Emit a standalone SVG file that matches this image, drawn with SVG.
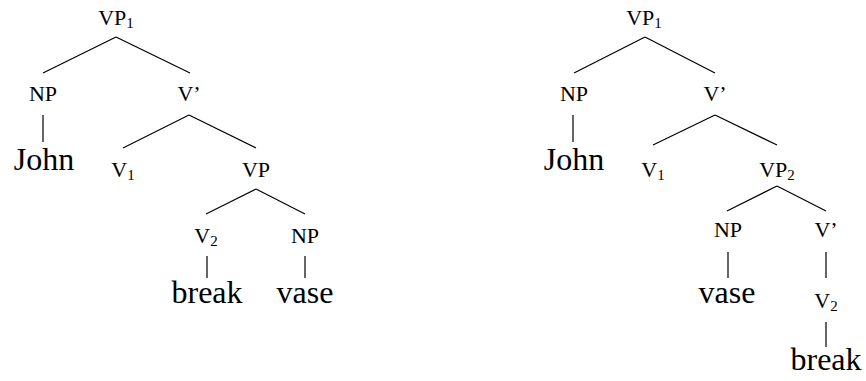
<svg xmlns="http://www.w3.org/2000/svg" width="866" height="381" viewBox="0 0 866 381">
<style>
.lbl{font-size:22px;fill:#000;text-anchor:middle}
.wd{font-size:32px;fill:#000;text-anchor:middle}
.sub{font-size:15px}
.edge{stroke:#000;stroke-width:1.2;fill:none}
</style>
<rect width="866" height="381" fill="#fff"/>
<g id="connectors">
<line class="edge" x1="116" y1="37" x2="43" y2="73"/>
<line class="edge" x1="116" y1="37" x2="190" y2="73"/>
<line class="edge" x1="43" y1="115" x2="43" y2="142"/>
<line class="edge" x1="189" y1="115" x2="123" y2="148"/>
<line class="edge" x1="189" y1="115" x2="256" y2="148"/>
<line class="edge" x1="256" y1="189" x2="206" y2="214"/>
<line class="edge" x1="256" y1="189" x2="305" y2="214"/>
<line class="edge" x1="207" y1="256" x2="207" y2="278"/>
<line class="edge" x1="305" y1="256" x2="305" y2="278"/>
<line class="edge" x1="645" y1="37" x2="574" y2="73"/>
<line class="edge" x1="645" y1="37" x2="715" y2="73"/>
<line class="edge" x1="573" y1="115" x2="573" y2="142"/>
<line class="edge" x1="715" y1="115" x2="653" y2="145"/>
<line class="edge" x1="715" y1="115" x2="777" y2="145"/>
<line class="edge" x1="777" y1="186" x2="727" y2="211"/>
<line class="edge" x1="777" y1="186" x2="826" y2="211"/>
<line class="edge" x1="728" y1="252" x2="728" y2="278"/>
<line class="edge" x1="826" y1="252" x2="826" y2="278"/>
<line class="edge" x1="826" y1="322" x2="826" y2="347"/>
</g>
<g font-family="'Liberation Serif', 'Times New Roman', serif">
<g id="L-VP1"><text class="lbl" x="116" y="25">VP<tspan class="sub" dy="3">1</tspan></text></g>
<g id="L-NP"><text class="lbl" x="43" y="101">NP</text></g>
<g id="L-Vbar"><text class="lbl" x="189" y="101">V’</text></g>
<g id="L-John"><text class="wd" x="44" y="170">John</text></g>
<g id="L-V1"><text class="lbl" x="123" y="177">V<tspan class="sub" dy="3">1</tspan></text></g>
<g id="L-VP"><text class="lbl" x="256" y="177">VP</text></g>
<g id="L-V2"><text class="lbl" x="206" y="243">V<tspan class="sub" dy="3">2</tspan></text></g>
<g id="L-NP2"><text class="lbl" x="305" y="243">NP</text></g>
<g id="L-break"><text class="wd" x="207" y="303">break</text></g>
<g id="L-vase"><text class="wd" x="305" y="303">vase</text></g>
<g id="R-VP1"><text class="lbl" x="644" y="25">VP<tspan class="sub" dy="3">1</tspan></text></g>
<g id="R-NP"><text class="lbl" x="574" y="101">NP</text></g>
<g id="R-Vbar"><text class="lbl" x="715" y="101">V’</text></g>
<g id="R-John"><text class="wd" x="574" y="170">John</text></g>
<g id="R-V1"><text class="lbl" x="653" y="177">V<tspan class="sub" dy="3">1</tspan></text></g>
<g id="R-VP2"><text class="lbl" x="777" y="177">VP<tspan class="sub" dy="3">2</tspan></text></g>
<g id="R-NP2"><text class="lbl" x="728" y="237">NP</text></g>
<g id="R-Vbar2"><text class="lbl" x="826" y="237">V’</text></g>
<g id="R-vase"><text class="wd" x="727" y="303">vase</text></g>
<g id="R-V2"><text class="lbl" x="826" y="308">V<tspan class="sub" dy="3">2</tspan></text></g>
<g id="R-break"><text class="wd" x="826" y="370">break</text></g>
</g>
</svg>
